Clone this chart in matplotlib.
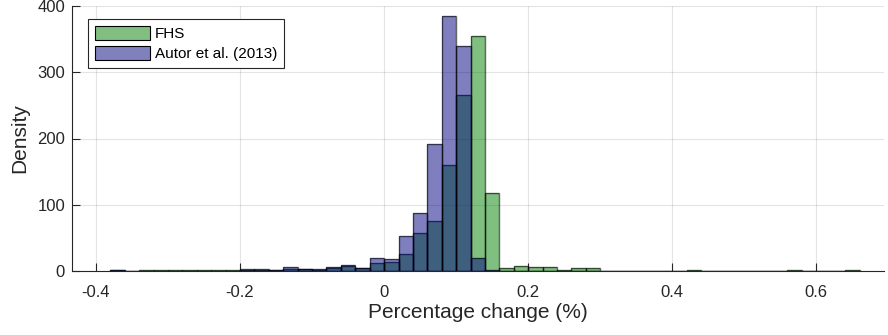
import numpy as np
import matplotlib
matplotlib.use("Agg")
import matplotlib.pyplot as plt
from matplotlib.patches import Patch

# Histogram bin edges: -0.38 .. 0.66 step 0.02
bin_start = -0.38
bin_width = 0.02
n_bins = 52

fhs = [1, 0.5, 1, 1, 1, 1, 1, 1, 1, 2.5,
       2.5, 1.5, 2.5, 2.5, 2, 4, 8, 4, 12, 13,
       26, 57, 75, 160, 266, 355, 118, 4, 7.5, 5.5,
       5.5, 1, 4, 4, 0.5, 0.3, 0.5, 0.3, 0.5, 0.3,
       1, 0.3, 0.3, 0.3, 0.3, 0.3, 0.3, 1, 0.3, 0.3,
       0.3, 1]
autor = [1, 0.3, 0.5, 0.5, 0.5, 0.5, 0.5, 0.5, 0.5, 1,
         1, 2, 5.5, 2.5, 2.5, 6.5, 9, 4, 20, 18.6,
         53, 87, 191, 385, 340, 19, 1, 0, 0, 0,
         0, 0, 0, 0, 0, 0, 0, 0, 0, 0,
         0, 0, 0, 0, 0, 0, 0, 0, 0, 0,
         0, 0]

xticks = [-0.4, -0.2, 0, 0.2, 0.4, 0.6]
xticklabels = ["-0.4", "-0.2", "0", "0.2", "0.4", "0.6"]
yticks = [0, 100, 200, 300, 400]

plt.rcParams['font.family'] = ['Liberation Sans', 'DejaVu Sans']

edges = bin_start + bin_width * np.arange(n_bins + 1)
lefts = edges[:-1]

fig = plt.figure(figsize=(8.88, 3.35), dpi=100)
ax = fig.add_axes([72/888, 64/335, 812/888, 265/335])

green = (0, 0.5, 0)
blue = (0, 0, 0.5)
ax.bar(lefts, fhs, width=bin_width, align='edge', color=green, alpha=0.5,
       edgecolor='none', zorder=2)
ax.bar(lefts, fhs, width=bin_width, align='edge', facecolor='none',
       edgecolor=(0, 0, 0, 0.6), linewidth=1.0, zorder=3)
ax.bar(lefts, autor, width=bin_width, align='edge', color=blue, alpha=0.5,
       edgecolor='none', zorder=4)
ax.bar(lefts, autor, width=bin_width, align='edge', facecolor='none',
       edgecolor=(0, 0, 0, 0.6), linewidth=1.0, zorder=5)

ax.set_xlim(-0.4333, 0.694)
ax.set_ylim(0, 400)
ax.set_xticks(xticks)
ax.set_xticklabels(xticklabels)
ax.set_yticks(yticks)

dark = '#262626'
for s in ['top', 'right']:
    ax.spines[s].set_visible(False)
for s in ['left', 'bottom']:
    ax.spines[s].set_color(dark)
    ax.spines[s].set_linewidth(0.8)
ax.tick_params(direction='in', length=6, width=0.8, colors=dark, labelsize=12,
               labelcolor=dark)
ax.tick_params(axis='x', pad=10)
ax.tick_params(axis='y', pad=5)
ax.grid(True, color=(0.15, 0.15, 0.15), alpha=0.12, linewidth=0.8, zorder=0)
ax.set_axisbelow(True)

ax.set_xlabel('Percentage change (%)', fontsize=15, color=dark, labelpad=2)
ax.set_ylabel('Density', fontsize=15, color=dark, labelpad=6)

handles = [Patch(facecolor=(0.5, 0.75, 0.5), edgecolor='black', linewidth=0.8, label='FHS'),
           Patch(facecolor=(0.5, 0.5, 0.75), edgecolor='black', linewidth=0.8, label='Autor et al. (2013)')]
leg = ax.legend(handles=handles, loc='upper left', bbox_to_anchor=(0.0197, 0.951),
                borderaxespad=0, fontsize=11, handlelength=3.6, handleheight=1.0,
                handletextpad=0.35, labelspacing=0.35, fancybox=False, framealpha=1,
                borderpad=0.45)
leg.get_frame().set_edgecolor(dark)
leg.get_frame().set_linewidth(0.8)

fig.savefig('out.png', dpi=100)
